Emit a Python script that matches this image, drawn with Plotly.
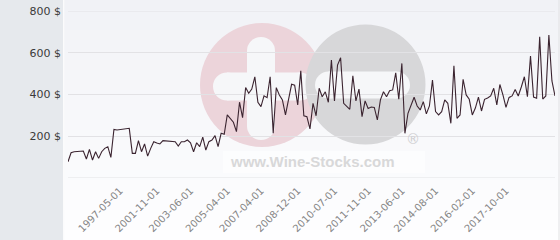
import plotly.graph_objects as go

# ---- data ----
values = [78, 121, 126, 126, 127, 129, 91, 137, 86, 126, 94, 126, 142, 150, 99,
          233, 230, 232, 233, 235, 238, 118, 118, 179, 126, 163, 105, 142, 174, 168,
          163, 179, 177, 175, 175, 174, 153, 174, 174, 182, 169, 126, 169, 150, 196,
          134, 174, 182, 203, 150, 214, 209, 302, 286, 267, 222, 363, 289, 433, 406,
          426, 485, 363, 342, 394, 385, 485, 214, 433, 398, 374, 302, 378, 449, 445,
          350, 513, 298, 294, 235, 358, 298, 430, 389, 413, 363, 565, 369, 541, 576,
          358, 342, 329, 490, 369, 426, 294, 369, 333, 340, 338, 278, 374, 413, 389,
          418, 422, 504, 377, 549, 214, 310, 350, 387, 345, 326, 366, 307, 345, 469,
          318, 302, 318, 374, 358, 262, 537, 286, 302, 473, 398, 377, 302, 335, 387,
          321, 377, 383, 393, 430, 350, 448, 398, 338, 386, 393, 424, 393, 436, 485,
          390, 584, 388, 382, 677, 378, 393, 685, 465, 393]

tick_idx = [17, 29, 40, 52, 63, 75, 87, 98, 109, 120, 132, 143]
tick_labels = ["1997-05-01", "2001-11-01", "2003-06-01", "2005-04-01", "2007-04-01",
               "2008-12-01", "2010-07-01", "2011-11-01", "2013-06-01", "2014-08-01",
               "2016-02-01", "2017-10-01"]

y_ticks = [0, 200, 400, 600, 800]
y_labels = ["", "200 $", "400 $", "600 $", "800 $"]

# ---- layout geometry (pixels) ----
L, R, T, B = 68, 555, 11, 178
W, H = R - L, B - T


def px(x):
    return (x - L) / W


def py(y):
    return (B - y) / H


def rect(x0, y0, x1, y1, color):
    return dict(type="rect", xref="paper", yref="paper", x0=px(x0), x1=px(x1),
                y0=py(y1), y1=py(y0), fillcolor=color, line=dict(width=0), layer="below")


def circle(cx, cy, r, color):
    return dict(type="circle", xref="paper", yref="paper", x0=px(cx - r), x1=px(cx + r),
                y0=py(cy + r), y1=py(cy - r), fillcolor=color, line=dict(width=0), layer="below")


def hstadium(x0, x1, cy, r, color):
    return [rect(x0, cy - r, x1, cy + r, color), circle(x0, cy, r, color), circle(x1, cy, r, color)]


def vstadium(cx, y0, y1, r, color):
    return [rect(cx - r, y0, cx + r, y1, color), circle(cx, y0, r, color), circle(cx, y1, r, color)]


shapes = []
# background gradient
top_c = (241, 242, 246)
bot_c = (254, 254, 255)
n = 24
for i in range(n):
    y0 = i * 240 / n
    y1 = (i + 1) * 240 / n
    t = (i + 0.5) / n
    c = tuple(round(top_c[k] + (bot_c[k] - top_c[k]) * t) for k in range(3))
    shapes.append(rect(63, y0, 561, y1 + 0.5, "rgb(%d,%d,%d)" % c))
# left panel
shapes.append(rect(-2, -2, 63, 242, "#e6e9ed"))
shapes.append(rect(63, -2, 64.3, 242, "#fbfbfc"))
# right border
shapes.append(rect(558.5, -2, 559.5, 242, "#e2e2e4"))

# watermark
pink = "#ecd4da"
grey = "#d7d7d9"
hole = "#f6f7f9"
shapes.append(circle(262, 85, 62, pink))
shapes += vstadium(261, 51, 126, 14, hole)
shapes += hstadium(227, 300, 86.5, 14, hole)
shapes.append(circle(365.5, 84.5, 60, grey))
shapes += hstadium(328.5, 396.5, 85, 13.5, hole)
shapes.append(rect(223, 151, 425, 173, "rgba(255,255,255,0.55)"))

# edge grid lines (0 and 800)
for yv in (0, 800):
    shapes.append(dict(type="line", xref="paper", yref="y", x0=0, x1=1, y0=yv, y1=yv,
                       line=dict(color="#e2e2e5", width=1), layer="below"))

fig = go.Figure()
fig.add_trace(go.Scatter(
    x=list(range(len(values))), y=values, mode="lines",
    line=dict(color="#3b2430", width=1.1), hoverinfo="skip"))

fig.update_layout(
    width=560, height=240, autosize=False,
    margin=dict(l=L, r=560 - R, t=T, b=240 - B, pad=0),
    paper_bgcolor="white", plot_bgcolor="rgba(0,0,0,0)",
    showlegend=False,
    shapes=shapes,
    annotations=[
        dict(text="www.Wine-Stocks.com", xref="paper", yref="paper", x=px(312), y=py(161),
             showarrow=False, xanchor="center", yanchor="middle",
             font=dict(family="Liberation Sans", size=15, color="#d8d8d9", weight="bold")),
        dict(text="®", xref="paper", yref="paper", x=px(413), y=py(139),
             showarrow=False, xanchor="center", yanchor="middle",
             font=dict(family="DejaVu Sans", size=14, color="#cfcfd1")),
    ],
    xaxis=dict(range=[0, len(values) - 1], showgrid=False, zeroline=False, showline=False,
               tickmode="array", tickvals=tick_idx, ticktext=tick_labels, tickangle=-45,
               tickfont=dict(family="DejaVu Sans", size=10, color="#858585"), ticks="",
               ticklabelstandoff=4),
    yaxis=dict(range=[0, 800], tickmode="array", tickvals=y_ticks, ticktext=y_labels,
               showgrid=True, gridcolor="#e2e2e5", gridwidth=1, zeroline=False, showline=False,
               tickfont=dict(family="DejaVu Sans", size=11, color="#3a3a3a"), ticks="",
               ticklabelstandoff=6),
)

fig.write_html("out.html")
